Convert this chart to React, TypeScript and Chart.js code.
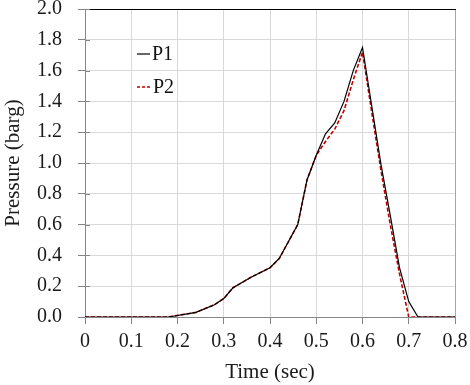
import React, { useEffect, useRef } from "react";
import { Chart, registerables } from "chart.js";

Chart.register(...registerables);

const time = [0, 0.1, 0.18, 0.24, 0.28, 0.3, 0.32, 0.36, 0.4, 0.42, 0.46, 0.48, 0.5, 0.52, 0.54, 0.56, 0.58, 0.6, 0.62, 0.64, 0.66, 0.68, 0.7, 0.72, 0.8];
const p1 = [0, 0, 0, 0.03, 0.08, 0.12, 0.19, 0.26, 0.32, 0.38, 0.6, 0.89, 1.05, 1.19, 1.26, 1.4, 1.6, 1.75, 1.37, 0.99, 0.66, 0.32, 0.1, 0, 0];
const p2 = [0, 0, 0, 0.03, 0.08, 0.12, 0.19, 0.26, 0.32, 0.38, 0.6, 0.89, 1.05, 1.14, 1.22, 1.34, 1.54, 1.72, 1.33, 0.95, 0.6, 0.28, 0, 0, 0];
const seriesNames = ["P1", "P2"];
const xTitle = "Time (sec)";
const yTitle = "Pressure (barg)";

const FONT = "'Liberation Serif', 'Times New Roman', serif";
const RED = "#c00000";

const framePlugin = {
  id: "frame",
  beforeDatasetsDraw(chart: any) {
    const { ctx, chartArea: a } = chart;
    ctx.save();
    // right border
    ctx.strokeStyle = "#a6a6a6";
    ctx.lineWidth = 1;
    ctx.beginPath();
    ctx.moveTo(a.right + 0.5, a.top);
    ctx.lineTo(a.right + 0.5, a.bottom);
    ctx.stroke();
    // top border
    ctx.strokeStyle = "#000";
    ctx.beginPath();
    ctx.moveTo(a.left, a.top + 0.5);
    ctx.lineTo(a.right + 1, a.top + 0.5);
    ctx.stroke();
    // inner tick marks on y axis
    const y = chart.scales.y;
    ctx.strokeStyle = "#868686";
    y.ticks.forEach((t: any) => {
      const py = Math.round(y.getPixelForValue(t.value)) + 0.5;
      ctx.beginPath();
      ctx.moveTo(a.left, py);
      ctx.lineTo(a.left + 5, py);
      ctx.stroke();
    });
    ctx.restore();
  },
  afterDraw(chart: any) {
    const { ctx } = chart;
    ctx.save();
    ctx.font = `20px ${FONT}`;
    ctx.textBaseline = "middle";
    ctx.fillStyle = "#111";
    // P1
    ctx.strokeStyle = "#000";
    ctx.lineWidth = 1.2;
    ctx.beginPath();
    ctx.moveTo(137, 54);
    ctx.lineTo(150, 54);
    ctx.stroke();
    ctx.fillText(seriesNames[0], 152, 55);
    // P2
    ctx.strokeStyle = RED;
    ctx.lineWidth = 1.5;
    ctx.setLineDash([3, 2]);
    ctx.beginPath();
    ctx.moveTo(137, 87);
    ctx.lineTo(152, 87);
    ctx.stroke();
    ctx.setLineDash([]);
    ctx.fillText(seriesNames[1], 153, 88);
    ctx.restore();
  },
};

export default function App() {
  const ref = useRef<HTMLCanvasElement | null>(null);
  useEffect(() => {
    if (!ref.current) return;
    const chart = new Chart(ref.current, {
      type: "line",
      data: {
        datasets: [
          {
            label: seriesNames[0],
            data: time.map((t, i) => ({ x: t, y: p1[i] })),
            borderColor: "#000",
            borderWidth: 1.2,
            pointRadius: 0,
            tension: 0,
          },
          {
            label: seriesNames[1],
            data: time.map((t, i) => ({ x: t, y: p2[i] })),
            borderColor: RED,
            borderWidth: 1.6,
            borderDash: [4, 2],
            pointRadius: 0,
            tension: 0,
          },
        ],
      },
      options: {
        responsive: false,
        animation: false,
        devicePixelRatio: 1,
        layout: { padding: { top: 9, right: 15, left: 0, bottom: 0 } },
        plugins: { legend: { display: false }, tooltip: { enabled: false } },
        scales: {
          x: {
            type: "linear",
            min: 0,
            max: 0.8,
            afterFit(s: any) {
              s.height = 68;
              s.paddingLeft = 0;
              s.paddingRight = 0;
              s.paddingTop = 0;
              s.paddingBottom = 0;
            },
            ticks: {
              stepSize: 0.1,
              padding: 6,
              color: "#1a1a1a",
              font: { family: FONT, size: 20 },
              callback: (v: any) => (v === 0 ? "0" : Number(v).toFixed(1)),
              maxRotation: 0,
            },
            grid: { color: "#d9d9d9", tickLength: 7, tickColor: "#868686" },
            border: { color: "#868686", width: 1 },
            title: {
              display: true,
              text: xTitle,
              color: "#1a1a1a",
              font: { family: FONT, size: 21 },
              padding: { top: 0, bottom: 0 },
            },
          },
          y: {
            min: 0,
            max: 2,
            afterFit(s: any) {
              s.width = 85;
              s.paddingLeft = 0;
              s.paddingRight = 0;
              s.paddingTop = 0;
              s.paddingBottom = 0;
            },
            ticks: {
              stepSize: 0.2,
              padding: 16,
              color: "#1a1a1a",
              font: { family: FONT, size: 20 },
              callback: (v: any) => Number(v).toFixed(1),
            },
            grid: { color: "#d9d9d9", tickLength: 7, tickColor: "#868686" },
            border: { color: "#868686", width: 1 },
            title: {
              display: true,
              text: yTitle,
              color: "#1a1a1a",
              font: { family: FONT, size: 21 },
              padding: { top: 1, bottom: 0 },
            },
          },
        },
      },
      plugins: [framePlugin],
    } as any);
    return () => chart.destroy();
  }, []);
  return (
    <div style={{ position: "absolute", left: 0, top: 0, width: 470, height: 385, background: "#fff" }}>
      <canvas ref={ref} width={470} height={385} style={{ width: 470, height: 385, display: "block" }} />
    </div>
  );
}
